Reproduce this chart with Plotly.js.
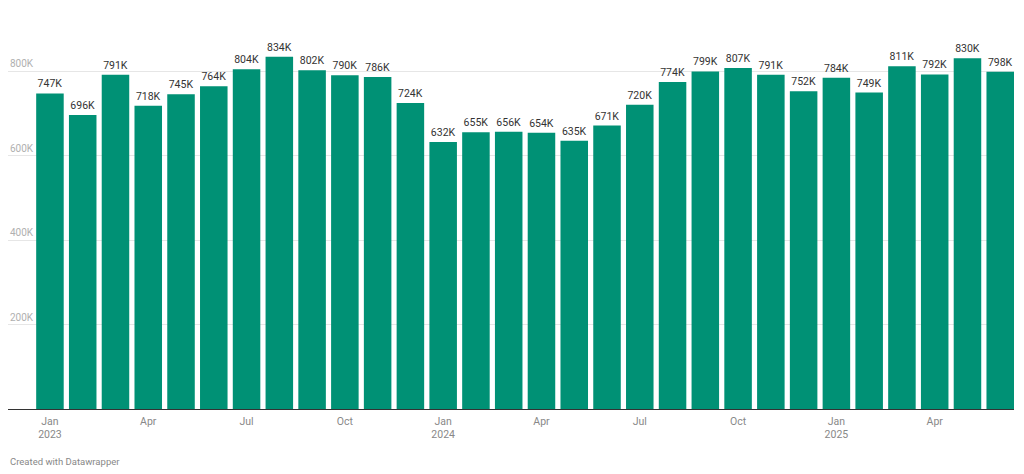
<!DOCTYPE html>
<html>
<head>
<meta charset="utf-8">
<script src="https://cdn.plot.ly/plotly-3.0.1.min.js"></script>
<style>html,body{margin:0;padding:0;background:#fff;}#chart{width:1024px;height:474px;}</style>
</head>
<body>
<div id="chart"></div>
<script>
const months = ["Jan 2023","Feb 2023","Mar 2023","Apr 2023","May 2023","Jun 2023","Jul 2023","Aug 2023","Sep 2023","Oct 2023","Nov 2023","Dec 2023",
  "Jan 2024","Feb 2024","Mar 2024","Apr 2024","May 2024","Jun 2024","Jul 2024","Aug 2024","Sep 2024","Oct 2024","Nov 2024","Dec 2024",
  "Jan 2025","Feb 2025","Mar 2025","Apr 2025","May 2025","Jun 2025"];
const values = [747,696,791,718,745,764,804,834,802,790,786,724,
  632,655,656,654,635,671,720,774,799,807,791,752,
  784,749,811,792,830,798];
const xTickIdx = [0,3,6,9,12,15,18,21,24,27];
const xTickText = ["Jan<br>2023","Apr","Jul","Oct","Jan<br>2024","Apr","Jul","Oct","Jan<br>2025","Apr"];
const yTickVals = [200,400,600,800];
const yTickText = ["200K","400K","600K","800K"];

const xs = values.map((v,i)=>i);
const trace = {
  type:'bar', x:xs, y:values,
  marker:{color:'#009175'},
  text: values.map(v=>v+'K'),
  textposition:'outside',
  textfont:{family:'Roboto, sans-serif', size:10.5, color:'#333'},
  cliponaxis:false,
  hoverinfo:'skip'
};
const annotations = yTickVals.map((v,i)=>({
  xref:'paper', yref:'y', x:0, y:v, xanchor:'left', yanchor:'bottom',
  text:yTickText[i], showarrow:false, yshift:0,
  font:{family:'Roboto, sans-serif', size:10, color:'#b0b0b0'}
}));
annotations.push({
  xref:'paper', yref:'paper', x:0, y:0, xanchor:'left', yanchor:'middle', yshift:-52,
  text:'Created with Datawrapper', showarrow:false,
  font:{family:'Roboto, sans-serif', size:9.5, color:'#888'}
});
const layout = {
  width:1024, height:474,
  margin:{l:8, r:10, t:20, b:65},
  paper_bgcolor:'#fff', plot_bgcolor:'#fff',
  bargap:0.16,
  showlegend:false,
  xaxis:{range:[-1.28,29.42], tickmode:'array', tickvals:xTickIdx, ticktext:xTickText,
    showgrid:false, zeroline:false, showline:false, ticks:'', ticklabelstandoff:4,
    tickfont:{family:'Roboto, sans-serif', size:10.5, color:'#888'}, fixedrange:true},
  yaxis:{range:[0,920.7], tickmode:'array', tickvals:yTickVals, showticklabels:false,
    showgrid:true, gridcolor:'#e6e6e6', gridwidth:1, zeroline:true, zerolinecolor:'#333', zerolinewidth:1,
    showline:false, fixedrange:true},
  annotations:annotations,
  font:{family:'Roboto, sans-serif'}
};
Plotly.newPlot('chart',[trace],layout,{displayModeBar:false,staticPlot:true});
</script>
</body>
</html>
